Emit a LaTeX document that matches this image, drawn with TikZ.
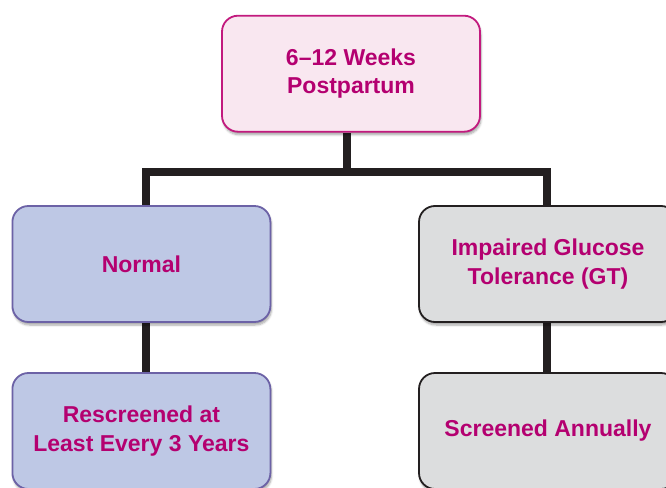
\documentclass[tikz,border=0pt]{standalone}
\usepackage{fontspec}
\setmainfont{Liberation Sans}
\usetikzlibrary{shadows.blur,backgrounds}
\definecolor{txtmag}{RGB}{180,0,112}
\definecolor{topfill}{RGB}{249,231,240}
\definecolor{topdraw}{RGB}{194,26,126}
\definecolor{bluefill}{RGB}{190,200,229}
\definecolor{bluedraw}{RGB}{108,98,166}
\definecolor{grayfill}{RGB}{220,221,222}
\definecolor{graydraw}{RGB}{35,31,32}
\definecolor{conn}{RGB}{35,31,32}
\tikzset{
  box/.style={rounded corners=16pt, minimum width=258pt, minimum height=116pt,
    inner sep=0pt, align=center, line width=1.8pt, text=txtmag,
    font=\fontsize{23}{28.5}\selectfont\bfseries,
    blur shadow={shadow xshift=1pt, shadow yshift=-3pt, shadow blur steps=6, shadow opacity=35}},
  topbox/.style={box, fill=topfill, draw=topdraw},
  bluebox/.style={box, fill=bluefill, draw=bluedraw},
  graybox/.style={box, fill=grayfill, draw=graydraw},
  connector/.style={draw=conn, line width=8pt, line join=miter}
}
\begin{document}
\begin{tikzpicture}[x=1pt,y=1pt]
\useasboundingbox (0,0) rectangle (666,-487);
\clip (0,0) rectangle (666,-487);
\node[topbox] (top) at (351,-73.7) {6–12 Weeks\\Postpartum};
\node[bluebox] (normal) at (141.4,-264) {Normal};
\node[graybox] (igt) at (548,-264) {Impaired Glucose\\Tolerance (GT)};
\node[bluebox] (rescreen) at (141.4,-431) {Rescreened at\\Least Every 3 Years};
\node[graybox] (annual) at (548,-431) {Screened Annually};
\coordinate (bl) at (145.5,-172);
\coordinate (br) at (546.7,-172);
\coordinate (bm) at (347,-172);
\begin{pgfonlayer}{background}
\draw[connector] (top.south -| bm) -- (bm);
\draw[connector] (normal.north -| bl) |- (br) -- (igt.north -| br);
\draw[connector] (normal.south -| bl) -- (rescreen.north -| bl);
\draw[connector] (igt.south -| br) -- (annual.north -| br);
\end{pgfonlayer}
\end{tikzpicture}
\end{document}
